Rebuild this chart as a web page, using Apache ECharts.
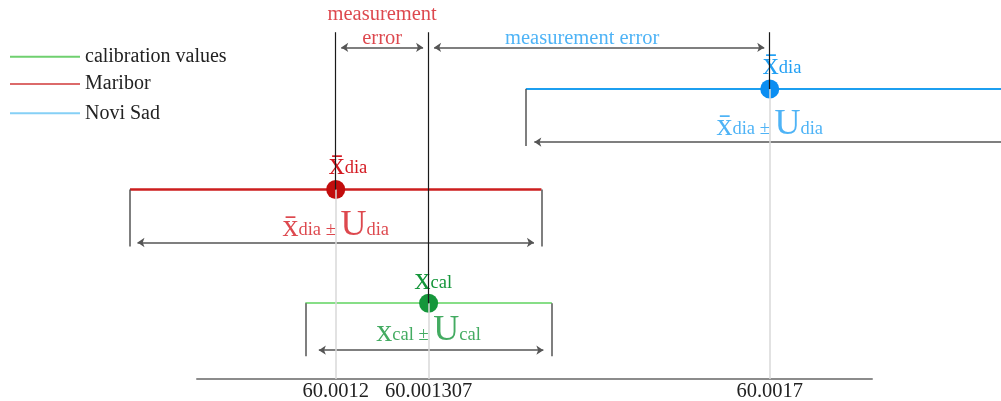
<!DOCTYPE html>
<html><head><meta charset="utf-8">
<script src="https://cdn.jsdelivr.net/npm/echarts@6/dist/echarts.min.js"></script>
<style>html,body{margin:0;padding:0;background:#fff}#c{width:1001px;height:401px}</style>
</head><body><div id="c"></div>
<script>
// ---------------- data ----------------
const tickValues = [60.0012, 60.001307, 60.0017];
const tickLabels = ['60.0012', '60.001307', '60.0017'];
const groups = ['calibration values', 'Maribor', 'Novi Sad'];
const groupMeans = [60.001307, 60.0012, 60.0017];
const groupU = [0.000142, 0.000237, 0.000281];
const groupRows = [2.0, 5.0, 7.65];          // row of each group on the hidden y scale (0-10)
const errorRow = 8.75;                        // row of the measurement-error arrows
const guideTopRow = 9.15;                     // top end of the black guide lines
const xMin = 60.0010402, xMax = 60.0018178;   // axis extent
const pointLabels = ['{X|x}{s|cal}', '{X|x\u0304}{s|dia}', '{X|x\u0304}{s|dia}'];
const intervalLabels = ['{X|x}{s|cal ± }{U|U}{s|cal}', '{X|x\u0304}{s|dia ± }{U|U}{s|dia}', '{X|x\u0304}{s|dia ± }{U|U}{s|dia}'];
const errorLabels = ['measurement\nerror', 'measurement error'];

// ---------------- styles ----------------
const FONT = '"Liberation Serif","Times New Roman",serif';
const GRID = {left: 197, right: 129, top: 0, bottom: 22};
const pxX = (xMax - xMin) / (1001 - GRID.left - GRID.right);
const pxY = 10 / (401 - GRID.top - GRID.bottom);
const lineColors = ['#5fd35f', '#cc1e1e', '#1c9ff0'];
const dotColors = ['#15973b', '#c20d0d', '#0b8ef2'];
const textColors = ['#14963a', '#d41a22', '#22a0f4'];
const legendColors = ['#6fd06f', '#dc6a6a', '#86d0f6'];
const lineWidths = [1.5, 2.5, 2];
const bracketPx = [53, 57, 57];
const arrowPx = [47, 53, 53];
const arrowTipInset = [[10, 5], [4, 4], [5, -4]];
const topLabelOffset = [-14, -7, -7];
const topLabelDist = [-2.5, -2, -2];
const bottomLabelDist = [10.7, 19.4, 18.8];
const legendLineY = [56.7, 84, 113.3];
const ARROW = 7;
const GREY = '#555';

function rich(color) {
  return {
    X: {fontFamily: FONT, fontSize: 32, lineHeight: 32, verticalAlign: 'bottom', color},
    s: {fontFamily: FONT, fontSize: 18.5, lineHeight: 24, verticalAlign: 'bottom', padding: [0, 0, 4, 0], color},
    U: {fontFamily: FONT, fontSize: 36, lineHeight: 34, verticalAlign: 'bottom', color}
  };
}

const series = [];
const greyGuides = [], blackGuides = [], brackets = [], arrows = [];

groups.forEach((name, i) => {
  const m = groupMeans[i], u = groupU[i], r = groupRows[i];
  const lo = m - u, hi = m + u;
  series.push({
    type: 'lines', coordinateSystem: 'cartesian2d', name, data: [{coords: [[lo, r], [hi, r]]}],
    symbol: 'none', clip: false, silent: true, z: 3,
    lineStyle: {color: lineColors[i], width: lineWidths[i], opacity: 1, curveness: 0}, itemStyle: {color: lineColors[i]}
  });
  greyGuides.push({coords: [[m, 0], [m, r]]});
  blackGuides.push({coords: [[m, guideTopRow], [m, r]]});
  const rb = r - bracketPx[i] * pxY, ra = r - arrowPx[i] * pxY;
  brackets.push({coords: [[lo, r], [lo, rb]]});
  brackets.push({coords: [[hi, r], [hi, rb]]});
  arrows.push({coords: [[lo + (arrowTipInset[i][0] + ARROW / 2) * pxX, ra], [hi - (arrowTipInset[i][1] + ARROW / 2) * pxX, ra]]});
  // dot with its label
  series.push({
    type: 'scatter', data: [[m, r]], symbolSize: 19, silent: true, z: 6, clip: false,
    itemStyle: {color: dotColors[i], opacity: 1},
    label: {show: true, position: 'top', distance: topLabelDist[i], align: 'left', offset: [topLabelOffset[i], 0],
      formatter: pointLabels[i], rich: rich(textColors[i])}
  });
  // interval label
  series.push({
    type: 'scatter', data: [[m, r]], symbolSize: 1, silent: true, z: 6, clip: false,
    itemStyle: {color: 'rgba(0,0,0,0)'},
    label: {show: true, position: 'bottom', distance: bottomLabelDist[i],
      formatter: intervalLabels[i], rich: rich(textColors[i])}
  });
});

// measurement error arrows between the means
const eInset = (2 + ARROW / 2) * pxX;
arrows.push({coords: [[groupMeans[1] + eInset, errorRow], [groupMeans[0] - eInset, errorRow]]});
arrows.push({coords: [[groupMeans[0] + eInset, errorRow], [groupMeans[2] - eInset, errorRow]]});

series.push({type: 'lines', coordinateSystem: 'cartesian2d', data: greyGuides, silent: true, clip: false, z: 7,
  symbol: 'none', lineStyle: {color: '#d9d9d9', width: 1.5, opacity: 1, curveness: 0}});
series.push({type: 'lines', coordinateSystem: 'cartesian2d', data: blackGuides, silent: true, clip: false, z: 8,
  symbol: 'none', lineStyle: {color: '#1a1a1a', width: 1.2, opacity: 1, curveness: 0}});
series.push({type: 'lines', coordinateSystem: 'cartesian2d', data: brackets, silent: true, clip: false, z: 4,
  symbol: 'none', lineStyle: {color: GREY, width: 1.5, opacity: 1, curveness: 0}});
series.push({type: 'lines', coordinateSystem: 'cartesian2d', data: arrows, silent: true, clip: false, z: 4,
  symbol: ['arrow', 'arrow'], symbolSize: ARROW,
  lineStyle: {color: GREY, width: 1.5, opacity: 1, curveness: 0}, itemStyle: {color: '#222'}});

// measurement error texts
series.push({
  type: 'scatter', data: [[(groupMeans[1] + groupMeans[0]) / 2, errorRow]], symbolSize: 1, silent: true, clip: false,
  itemStyle: {color: 'rgba(0,0,0,0)'},
  label: {show: true, position: 'top', distance: -4, formatter: errorLabels[0], color: textColors[1],
    fontFamily: FONT, fontSize: 20.5, lineHeight: 24}
});
series.push({
  type: 'scatter', data: [[(groupMeans[0] + groupMeans[2]) / 2, errorRow]], symbolSize: 1, silent: true, clip: false,
  itemStyle: {color: 'rgba(0,0,0,0)'},
  label: {show: true, position: 'top', distance: -4, offset: [-17, 0], formatter: errorLabels[1], color: textColors[2],
    fontFamily: FONT, fontSize: 20.5, lineHeight: 24}
});

const legends = groups.map((name, i) => ({
  left: 10, top: legendLineY[i] - 14.5, padding: 0, orient: 'vertical', selectedMode: false,
  icon: 'rect', itemWidth: 70, itemHeight: 2,
  itemStyle: {color: legendColors[i], borderColor: legendColors[i], borderWidth: 0},
  lineStyle: {width: 0},
  data: [{name, itemStyle: {color: legendColors[i], borderColor: legendColors[i], borderWidth: 0}}],
  textStyle: {fontFamily: FONT, fontSize: 20, lineHeight: 20, color: '#222', padding: [0, 0, 9, 0]}
}));

const chart = echarts.init(document.getElementById('c'), null, {renderer: 'canvas'});
chart.setOption({
  animation: false,
  backgroundColor: '#fff',
  grid: {left: GRID.left, right: GRID.right, top: GRID.top, bottom: GRID.bottom, containLabel: false, outerBoundsMode: 'none'},
  xAxis: {
    type: 'value', min: xMin, max: xMax,
    axisLine: {show: true, lineStyle: {color: '#8c8c8c', width: 2}},
    axisTick: {show: false}, splitLine: {show: false},
    axisLabel: {
      customValues: tickValues, margin: 2, fontFamily: FONT, fontSize: 20.5, color: '#222',
      formatter: v => {
        let best = 0;
        tickValues.forEach((t, k) => { if (Math.abs(t - v) < Math.abs(tickValues[best] - v)) best = k; });
        return tickLabels[best];
      }
    }
  },
  yAxis: {type: 'value', min: 0, max: 10, show: false},
  legend: legends,
  series
});
</script></body></html>
